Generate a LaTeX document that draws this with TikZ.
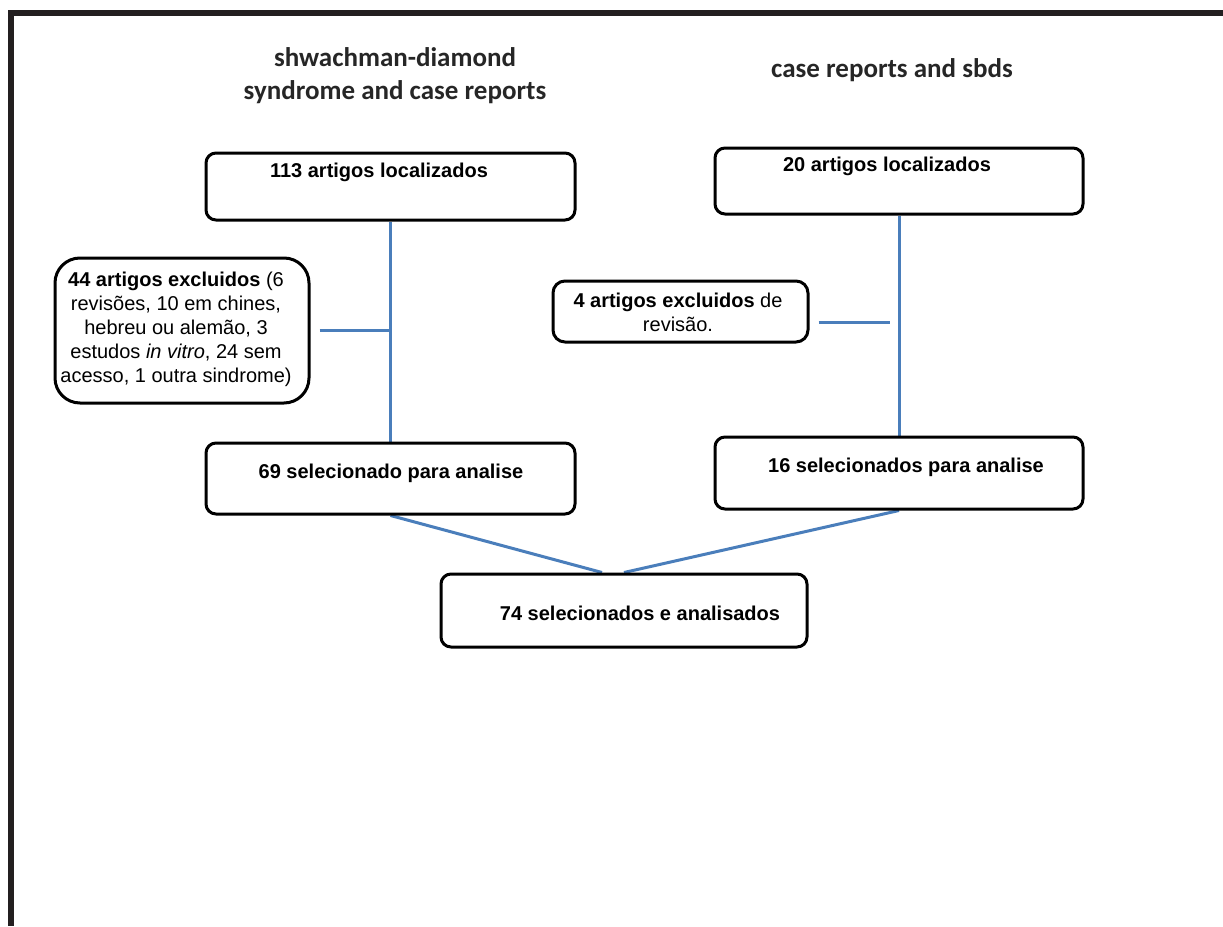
\documentclass[tikz,border=0pt]{standalone}
\usepackage{fontspec}
\setmainfont{Liberation Sans}
\newfontfamily\titlefont{Carlito}
\definecolor{framecol}{HTML}{231F20}
\definecolor{linkblue}{HTML}{4A7EBB}
\pgfdeclarelayer{bg}
\pgfsetlayers{bg,main}
\begin{document}
\begin{tikzpicture}[x=1pt,y=-1pt,
  stepbox/.style={draw=black, line width=3pt, rounded corners=10pt, inner sep=0pt, fill=white},
  boxtext/.style={font=\fontsize{20}{24}\selectfont, align=center, inner sep=0pt},
  heading/.style={font=\titlefont\bfseries\fontsize{27}{33}\selectfont, align=center, inner sep=0pt, text=black!85},
  link/.style={draw=linkblue, line width=3pt}]
\useasboundingbox (0,0) rectangle (1223,926);

% page frame: top and left rules
\fill[framecol] (8,10) rectangle (1223,16);
\fill[framecol] (8,10) rectangle (14,926);

% column headings
\node[heading] (hleft) at (395,76) {shwachman-diamond\\syndrome and case reports};
\node[heading] (hright) at (892,70) {case reports and sbds};

% boxes
\node[stepbox, minimum width=369pt, minimum height=67pt] (A) at (390.5,186.5) {};
\node[stepbox, minimum width=368pt, minimum height=66pt] (B) at (899,181) {};
\node[stepbox, minimum width=369pt, minimum height=71pt] (C) at (390.5,478.5) {};
\node[stepbox, minimum width=368pt, minimum height=72pt] (D) at (899,473) {};
\node[stepbox, minimum width=366pt, minimum height=73pt] (E) at (624,610.5) {};
\node[stepbox, rounded corners=25pt, minimum width=254pt, minimum height=145pt] (F) at (182,330.5) {};
\node[stepbox, rounded corners=12pt, minimum width=255pt, minimum height=61pt] (G) at (680.5,311.5) {};

% box texts
\node[boxtext, font=\bfseries\fontsize{20}{24}\selectfont] (tA) at (379,172) {113 artigos localizados};
\node[boxtext, font=\bfseries\fontsize{20}{24}\selectfont] (tB) at (887,166) {20 artigos localizados};
\node[boxtext, font=\bfseries\fontsize{20}{24}\selectfont] (tC) at (391,473) {69 selecionado para analise};
\node[boxtext, font=\bfseries\fontsize{20}{24}\selectfont] (tD) at (906,467) {16 selecionados para analise};
\node[boxtext, font=\bfseries\fontsize{20}{24}\selectfont] (tE) at (640,613) {74 selecionados e analisados};
\node[boxtext] (tF) at (176,329) {\textbf{44 artigos excluidos} (6\\revisões, 10 em chines,\\hebreu ou alemão, 3\\estudos \textit{in vitro}, 24 sem\\acesso, 1 outra sindrome)};
\node[boxtext] (tG) at (678,312) {\textbf{4 artigos excluidos} de\\revisão.};

% connectors
\begin{pgfonlayer}{bg}
\draw[link] (A.south) -- (C.north);
\draw[link] (B.south) -- (D.north);
\draw[link] ([xshift=9pt]F.east) -- (F.east -| A.south);
\coordinate (gj) at ([xshift=9pt,yshift=-10.5pt]G.east);
\draw[link] (gj) -- ++(71,0);
\draw[link] (C.south) -- ([xshift=-22pt]E.north);
\draw[link] (D.south) -- (E.north);
\end{pgfonlayer}
\end{tikzpicture}
\end{document}
